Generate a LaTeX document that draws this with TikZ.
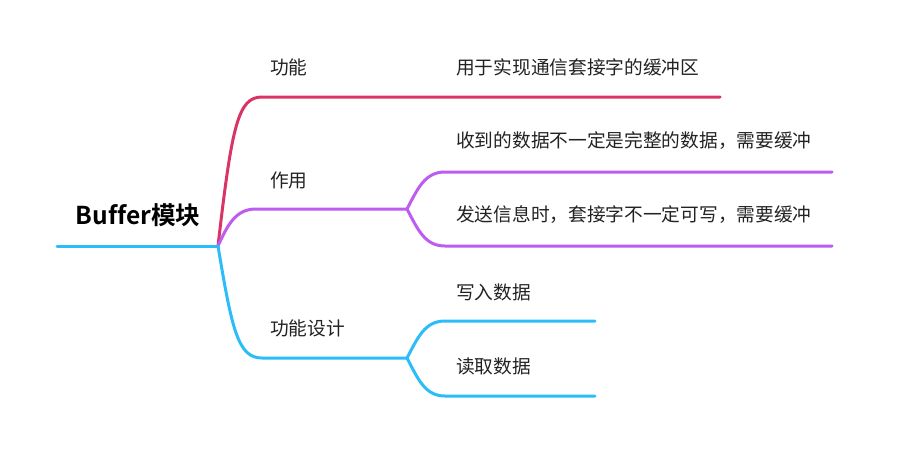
\documentclass[tikz,border=0pt]{standalone}
\usepackage{fontspec}
\setmainfont{Noto Sans CJK SC}
\newfontfamily\boldcjk[Ligatures=NoCommon]{Noto Sans CJK SC Bold}
\usepackage{xcolor}
\definecolor{BranchRed}{HTML}{DA3466}
\definecolor{BranchPurple}{HTML}{BE5BF0}
\definecolor{BranchBlue}{HTML}{2BBDF9}
\definecolor{TextMain}{HTML}{222222}
\usetikzlibrary{positioning}

\begin{document}
\begin{tikzpicture}[
  x=1pt, y=-1pt,
  branch/.style={draw=#1, line width=3pt, line cap=round},
  branch/.default=BranchBlue,
  topic/.style={anchor=west, inner sep=0pt, text=TextMain,
                font=\fontsize{18.7}{22}\selectfont},
  root/.style={inner sep=0pt, text=black,
               font=\boldcjk\fontsize{24.6}{29}\selectfont},
]
  \useasboundingbox (0,0) rectangle (920,475);

  % Branch points
  \coordinate (start) at (57,246);
  \coordinate (hub) at (218,246);
  \coordinate (useHub) at (407,209);
  \coordinate (designHub) at (407,358);

  % Root
  \node[root] (buffer) at (138,215) {Buffer模块};

  % Topics
  \node[topic] (func) at (270,67) {功能};
  \node[topic] (use) at (270,180) {作用};
  \node[topic] (design) at (270,328) {功能设计};

  % Leaves
  \node[topic] (funcText) at (456,67) {用于实现通信套接字的缓冲区};
  \node[topic] (recv) at (456,141) {收到的数据不一定是完整的数据，需要缓冲};
  \node[topic] (send) at (456,215) {发送信息时，套接字不一定可写，需要缓冲};
  \node[topic] (write) at (456,292) {写入数据};
  \node[topic] (read) at (456,366) {读取数据};

  % Red branch
  \draw[branch=BranchRed] (hub) .. controls (232,125) and (238,97) .. (262,97) -- (720,97);

  % Purple branch
  \draw[branch=BranchPurple] (hub) .. controls (228,224) and (236,209) .. (256,209) -- (useHub);
  \draw[branch=BranchPurple] (useHub) .. controls (418,188) and (425,172) .. (445,172) -- (832,172);
  \draw[branch=BranchPurple] (useHub) .. controls (418,230) and (425,246) .. (445,246) -- (832,246);

  % Blue branch
  \draw[branch] (start) -- (hub);
  \draw[branch] (hub) .. controls (232,330) and (238,358) .. (262,358) -- (designHub);
  \draw[branch] (designHub) .. controls (418,337) and (425,321) .. (445,321) -- (595,321);
  \draw[branch] (designHub) .. controls (418,379) and (425,396) .. (445,396) -- (595,396);
\end{tikzpicture}
\end{document}
